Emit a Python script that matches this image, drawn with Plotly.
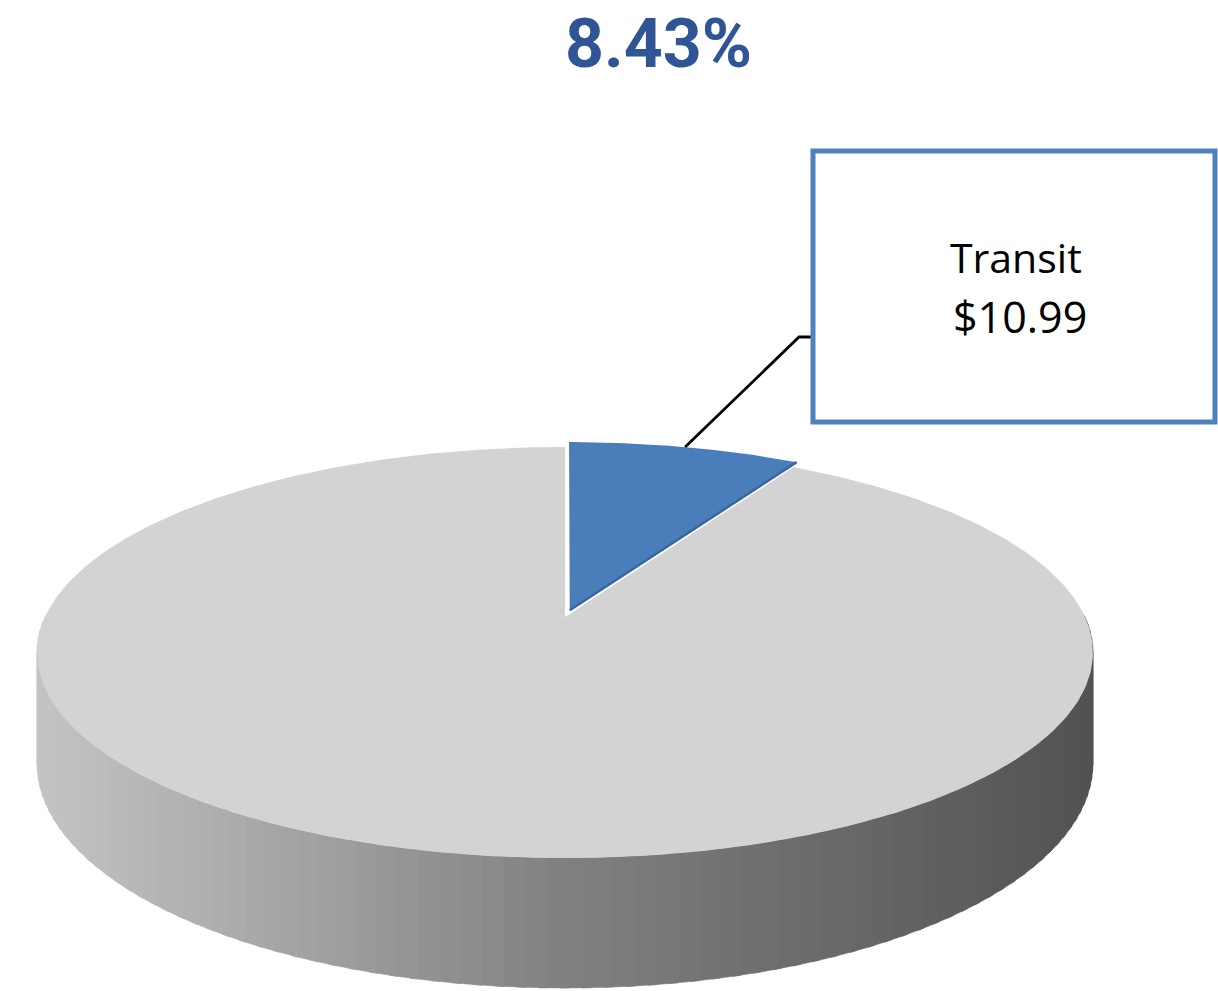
import numpy as np
import plotly.graph_objects as go

# ---------------- data ----------------
categories = ["Transit", "Other"]
values = [10.99, 119.37]
slice_colors = ["#4a7ebb", "#d3d3d3"]
label_lines = ["Transit", "$10.99"]

total = sum(values)
share_text = f"{values[0] / total * 100:.2f}%"

# ---------------- 3D pie geometry (pixel space) ----------------
CX, CY = 565.0, 617.0   # projected centre of top face
S = 520.0               # horizontal radius scale
A = 0.3835              # tilt compression
K = 0.1727              # perspective strength
H = 107.5               # wall height
EXPLODE = 0.035         # explosion distance of first slice


def proj(X, Y, z=0.0):
    X = np.asarray(X, float)
    Y = np.asarray(Y, float)
    w = 1.0 + K * Y
    return CX + S * X / w, CY - (S * A * Y + H * z) / w


def slice_xy(t0, t1, explode=0.0, n=120):
    mid = np.radians((t0 + t1) / 2)
    dx, dy = explode * np.sin(mid), explode * np.cos(mid)
    th = np.radians(np.linspace(t0, t1, n))
    X = np.concatenate([[dx], dx + np.sin(th), [dx]])
    Y = np.concatenate([[dy], dy + np.cos(th), [dy]])
    return proj(X, Y)


cum = np.concatenate([[0.0], np.cumsum(values)]) / total * 360.0

fig = go.Figure()

# ---- side wall of the big slice (front half), grey gradient ----
x_left, x_right = CX - S * 1.0152, CX + S * 1.0152
band_edges = np.linspace(90, 270, 91)
for i in range(len(band_edges) - 1):
    a0 = max(band_edges[i] - 0.4, cum[1])
    a1 = band_edges[i + 1] + 0.4
    th = np.radians(np.linspace(a0, a1, 6))
    tx, ty = proj(np.sin(th), np.cos(th), 0.0)
    bx, by = proj(np.sin(th), np.cos(th), -1.0)
    xs = np.concatenate([tx, bx[::-1], tx[:1]])
    ys = np.concatenate([ty, by[::-1], ty[:1]])
    am = np.radians((a0 + a1) / 2)
    mx = proj(np.sin(am), np.cos(am))[0]
    u = (float(mx) - x_left) / (x_right - x_left)
    g = int(round(np.interp(u, [0, 0.5, 1], [196, 128, 82])))
    col = f"rgb({g},{g},{g})"
    fig.add_trace(go.Scatter(x=xs, y=ys, mode="lines", fill="toself",
                             fillcolor=col, line=dict(color=col, width=0.6),
                             hoverinfo="skip", showlegend=False))

# ---- top faces ----
gx, gy = slice_xy(cum[1], cum[2], 0.0, n=400)
fig.add_trace(go.Scatter(x=gx, y=gy, mode="lines", fill="toself",
                         fillcolor=slice_colors[1], line=dict(color=slice_colors[1], width=0),
                         name=categories[1], hoverinfo="name", showlegend=False))

bx_, by_ = slice_xy(cum[0], cum[1], EXPLODE, n=80)
fig.add_trace(go.Scatter(x=bx_, y=by_, mode="lines", fill="toself",
                         fillcolor=slice_colors[0], line=dict(color=slice_colors[0], width=0),
                         name=categories[0], hoverinfo="name", showlegend=False))
# darker edge along the cut side of the exploded slice
fig.add_trace(go.Scatter(x=[bx_[0], bx_[-2]], y=[by_[0], by_[-2]], mode="lines",
                         line=dict(color="#3a66a0", width=2.5),
                         hoverinfo="skip", showlegend=False))

# ---- leader line from slice arc midpoint to label box ----
mid_deg = (cum[0] + cum[1]) / 2
mid = np.radians(mid_deg)
ex, ey = EXPLODE * np.sin(mid), EXPLODE * np.cos(mid)
lx, ly = proj(ex + np.sin(mid), ey + np.cos(mid))
BOX = dict(x0=813, x1=1215, y0=151, y1=422)
elbow_x, elbow_y = 799, 337
fig.add_trace(go.Scatter(x=[float(lx), elbow_x, BOX["x0"]], y=[float(ly), elbow_y, elbow_y],
                         mode="lines", line=dict(color="black", width=2.8),
                         hoverinfo="skip", showlegend=False))

fig.add_shape(type="rect", xref="x", yref="y", **BOX,
              line=dict(color="#4f81bd", width=5), fillcolor="white", layer="above")

label_x = (BOX["x0"] + BOX["x1"]) / 2 + 2
fig.add_annotation(x=label_x, y=257, xref="x", yref="y",
                   text=label_lines[0], showarrow=False,
                   font=dict(family="Open Sans, Noto Sans, sans-serif", size=41, color="black"))
fig.add_annotation(x=label_x + 4, y=316, xref="x", yref="y",
                   text=label_lines[1], showarrow=False,
                   font=dict(family="Open Sans, Noto Sans, sans-serif", size=43, color="black"))

fig.add_annotation(x=658, y=44, xref="x", yref="y", text=f"<b>{share_text}</b>",
                   showarrow=False,
                   font=dict(family="Roboto, sans-serif", size=68, color="#2f5597"))

fig.update_layout(
    width=1218, height=991,
    margin=dict(l=0, r=0, t=0, b=0),
    paper_bgcolor="white", plot_bgcolor="white",
    showlegend=False,
    xaxis=dict(range=[0, 1218], visible=False, fixedrange=True),
    yaxis=dict(range=[991, 0], visible=False, fixedrange=True),
)

fig.write_html("out.html", config={"displayModeBar": False},
               post_script="document.body.style.margin='0px';")
